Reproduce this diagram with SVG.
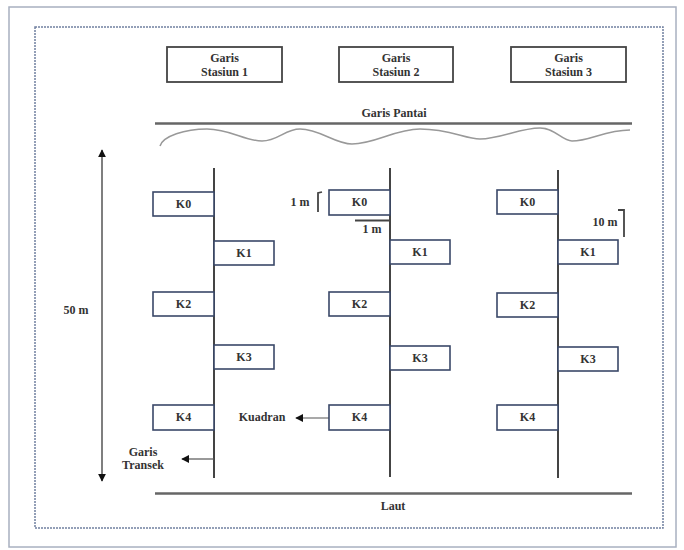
<svg xmlns="http://www.w3.org/2000/svg" width="684" height="550" viewBox="0 0 684 550">
<style>
text{font-family:'Liberation Serif','DejaVu Serif',serif;font-size:12px;font-weight:bold;fill:#333}
.st{fill:#fff;stroke:#444;stroke-width:1.8}
.k{fill:#fff;stroke:#3a4868;stroke-width:1.6}
.tr{stroke:#444;stroke-width:2;fill:none}
.ln{stroke:#666;stroke-width:2.5;fill:none}
.thin{stroke:#555;stroke-width:1.2;fill:none}
.br{stroke:#444;stroke-width:1.8;fill:none}
</style>
<defs>
<marker id="ah" viewBox="0 0 10 10" refX="9" refY="5" markerWidth="8" markerHeight="8" orient="auto-start-reverse" markerUnits="userSpaceOnUse">
<path d="M0,0 L10,5 L0,10 z" fill="#111"/>
</marker>
</defs>
<rect width="684" height="550" fill="#fff"/>
<rect x="9" y="7" width="667" height="540" fill="none" stroke="#a8b0c0" stroke-width="1.5"/>
<rect x="35" y="27" width="628" height="501" fill="none" stroke="#7080a0" stroke-width="1.5" stroke-dasharray="2 1"/>

<g font-family="Liberation Serif, serif">
<g id="stasiun1"><rect class="st" x="167" y="47" width="115" height="35"/><text x="224.5" y="62" text-anchor="middle">Garis</text><text x="224.5" y="76" text-anchor="middle">Stasiun 1</text></g>
<g id="stasiun2"><rect class="st" x="339" y="47" width="114" height="35"/><text x="396" y="62" text-anchor="middle">Garis</text><text x="396" y="76" text-anchor="middle">Stasiun 2</text></g>
<g id="stasiun3"><rect class="st" x="511" y="47" width="115" height="35"/><text x="568.5" y="62" text-anchor="middle">Garis</text><text x="568.5" y="76" text-anchor="middle">Stasiun 3</text></g>

<g id="pantai">
<text x="394" y="117" text-anchor="middle">Garis Pantai</text>
<line class="ln" x1="155" y1="123.5" x2="632" y2="123.5"/>
<path d="M160,146 C163,136 185,129 207,129 C230,129 245,141 262,141 C278,141 285,129 300,129 C320,129 335,144 352,144 C375,144 395,129 420,129 C450,129 465,139 480,139 C500,139 520,128 540,128 C555,128 562,141 572,141 C590,141 605,130 630,130" fill="none" stroke="#999" stroke-width="1.5"/>
</g>

<g id="connectors">
<line class="tr" x1="214" y1="168" x2="214" y2="478"/>
<line class="tr" x1="390" y1="168" x2="390" y2="477"/>
<line class="tr" x1="558" y1="170" x2="558" y2="478"/>
<line x1="102" y1="150" x2="102" y2="481" stroke="#555" stroke-width="1.5" marker-start="url(#ah)" marker-end="url(#ah)"/>
<line class="thin" x1="329" y1="418" x2="296" y2="418" marker-end="url(#ah)"/>
<line class="thin" x1="214" y1="459" x2="182" y2="459" marker-end="url(#ah)"/>
<path class="br" d="M322,192 L318,193 L318,212"/>
<line class="br" x1="355" y1="220.5" x2="390" y2="220.5"/>
<path class="br" d="M618,210 L624,210 L624,237"/>
</g>

<g id="s1-k0"><rect class="k" x="153" y="192" width="61" height="24"/><text x="183.5" y="208" text-anchor="middle">K0</text></g>
<g id="s1-k1"><rect class="k" x="214" y="241" width="60" height="24"/><text x="244" y="257" text-anchor="middle">K1</text></g>
<g id="s1-k2"><rect class="k" x="153" y="292" width="61" height="24"/><text x="183.5" y="308" text-anchor="middle">K2</text></g>
<g id="s1-k3"><rect class="k" x="214" y="345" width="60" height="24"/><text x="244" y="361" text-anchor="middle">K3</text></g>
<g id="s1-k4"><rect class="k" x="153" y="405" width="61" height="25"/><text x="183.5" y="421" text-anchor="middle">K4</text></g>

<g id="s2-k0"><rect class="k" x="329" y="190" width="61" height="25"/><text x="359.5" y="206" text-anchor="middle">K0</text></g>
<g id="s2-k1"><rect class="k" x="390" y="240" width="60" height="24"/><text x="420" y="256" text-anchor="middle">K1</text></g>
<g id="s2-k2"><rect class="k" x="329" y="292" width="61" height="24"/><text x="359.5" y="308" text-anchor="middle">K2</text></g>
<g id="s2-k3"><rect class="k" x="390" y="346" width="60" height="24"/><text x="420" y="362" text-anchor="middle">K3</text></g>
<g id="s2-k4"><rect class="k" x="329" y="405" width="61" height="25"/><text x="359.5" y="421" text-anchor="middle">K4</text></g>

<g id="s3-k0"><rect class="k" x="497" y="190" width="61" height="24"/><text x="527.5" y="206" text-anchor="middle">K0</text></g>
<g id="s3-k1"><rect class="k" x="558" y="240" width="60" height="24"/><text x="588" y="256" text-anchor="middle">K1</text></g>
<g id="s3-k2"><rect class="k" x="497" y="293" width="61" height="24"/><text x="527.5" y="309" text-anchor="middle">K2</text></g>
<g id="s3-k3"><rect class="k" x="558" y="347" width="60" height="24"/><text x="588" y="363" text-anchor="middle">K3</text></g>
<g id="s3-k4"><rect class="k" x="497" y="405" width="61" height="25"/><text x="527.5" y="421" text-anchor="middle">K4</text></g>

<g id="labels">
<text x="76" y="314" text-anchor="middle">50 m</text>
<text x="300" y="206" text-anchor="middle">1 m</text>
<text x="372" y="233" text-anchor="middle">1 m</text>
<text x="605" y="226" text-anchor="middle">10 m</text>
<text x="262" y="421" text-anchor="middle">Kuadran</text>
<text x="143" y="456" text-anchor="middle">Garis</text>
<text x="143" y="469" text-anchor="middle">Transek</text>
<text x="393" y="510" text-anchor="middle">Laut</text>
</g>
</g>
<line class="ln" x1="155" y1="493.5" x2="632" y2="493.5"/>
</svg>
